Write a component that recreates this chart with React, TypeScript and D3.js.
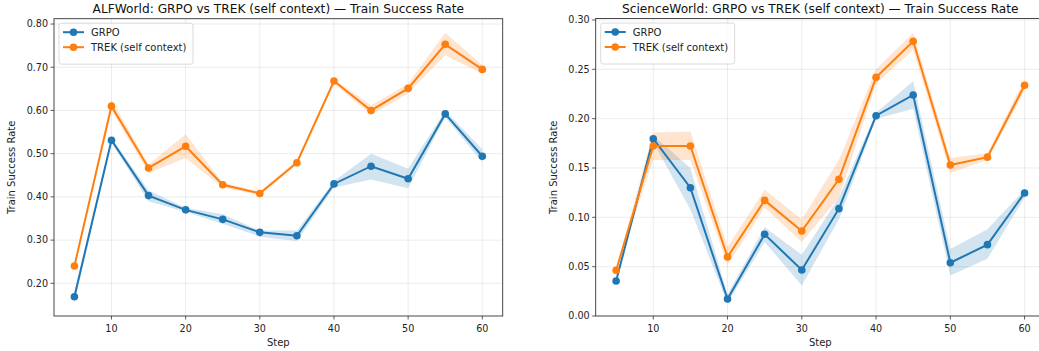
import React from 'react'
import { scaleLinear, line, area } from 'd3'

const steps = [5, 10, 15, 20, 25, 30, 35, 40, 45, 50, 55, 60]
const xTicks = [10, 20, 30, 40, 50, 60]

// ALFWorld
const alfGrpo = [0.169, 0.531, 0.403, 0.370, 0.348, 0.318, 0.310, 0.430, 0.471, 0.442, 0.592, 0.494]
const alfGrpoLo = [0.155, 0.525, 0.390, 0.365, 0.338, 0.308, 0.298, 0.422, 0.440, 0.420, 0.585, 0.480]
const alfGrpoHi = [0.180, 0.537, 0.415, 0.375, 0.360, 0.322, 0.322, 0.436, 0.500, 0.465, 0.600, 0.510]
const alfTrek = [0.240, 0.610, 0.467, 0.517, 0.428, 0.408, 0.479, 0.668, 0.600, 0.651, 0.753, 0.695]
const alfTrekLo = [0.237, 0.600, 0.455, 0.490, 0.422, 0.404, 0.475, 0.662, 0.590, 0.640, 0.728, 0.685]
const alfTrekHi = [0.243, 0.625, 0.475, 0.545, 0.433, 0.413, 0.485, 0.672, 0.612, 0.662, 0.780, 0.705]
const alfYTicks = [0.2, 0.3, 0.4, 0.5, 0.6, 0.7, 0.8]

// ScienceWorld
const sciGrpo = [0.0355, 0.1797, 0.130, 0.0172, 0.0828, 0.0466, 0.1088, 0.203, 0.224, 0.054, 0.0723, 0.1247]
const sciGrpoLo = [0.033, 0.176, 0.108, 0.013, 0.075, 0.031, 0.098, 0.200, 0.210, 0.041, 0.058, 0.120]
const sciGrpoHi = [0.038, 0.183, 0.150, 0.022, 0.090, 0.062, 0.120, 0.206, 0.238, 0.068, 0.088, 0.128]
const sciTrek = [0.0463, 0.1723, 0.1723, 0.0598, 0.1172, 0.0861, 0.1385, 0.2419, 0.2784, 0.153, 0.161, 0.2338]
const sciTrekLo = [0.044, 0.158, 0.158, 0.052, 0.110, 0.075, 0.120, 0.235, 0.270, 0.145, 0.158, 0.228]
const sciTrekHi = [0.048, 0.186, 0.187, 0.070, 0.128, 0.098, 0.158, 0.250, 0.287, 0.160, 0.165, 0.240]
const sciYTicks = [0.0, 0.05, 0.1, 0.15, 0.2, 0.25, 0.3]

const blue = '#1f77b4'
const orange = '#ff7f0e'
const font = 'DejaVu Sans, sans-serif'

type Series = { name: string; color: string; mean: number[]; lo: number[]; hi: number[] }

const Panel = ({ left, right, top, bottom, yDomain, yTicks, title, series }: {
  left: number; right: number; top: number; bottom: number
  yDomain: [number, number]; yTicks: number[]; title: string; series: Series[]
}) => {
  const x = scaleLinear().domain([2.25, 62.75]).range([left, right])
  const y = scaleLinear().domain(yDomain).range([bottom, top])
  const clipId = 'clip' + Math.round(left)
  const mk = line<number>().x((d, i) => x(steps[i])).y(d => y(d))
  return (
    <g>
      <defs>
        <clipPath id={clipId}><rect x={left} y={top} width={right - left} height={bottom - top} /></clipPath>
      </defs>
      <g clipPath={`url(#${clipId})`}>
        {xTicks.map(t => (
          <line key={'gx' + t} x1={x(t)} x2={x(t)} y1={top} y2={bottom} stroke='#b0b0b0' strokeOpacity={0.3} strokeWidth={0.8} />
        ))}
        {yTicks.map(t => (
          <line key={'gy' + t} x1={left} x2={right} y1={y(t)} y2={y(t)} stroke='#b0b0b0' strokeOpacity={0.3} strokeWidth={0.8} />
        ))}
        {series.map(s => {
          const band = area<number>().x((d, i) => x(steps[i])).y0((d, i) => y(s.lo[i])).y1(d => y(d))
          return <path key={'b' + s.name} d={band(s.hi) || ''} fill={s.color} fillOpacity={0.2} />
        })}
        {series.map(s => (
          <g key={'l' + s.name}>
            <path d={mk(s.mean) || ''} fill='none' stroke={s.color} strokeWidth={2} />
            {s.mean.map((v, i) => <circle key={i} cx={x(steps[i])} cy={y(v)} r={3.8} fill={s.color} />)}
          </g>
        ))}
      </g>
      <rect x={left} y={top} width={right - left} height={bottom - top} fill='none' stroke='#333' strokeWidth={0.9} />
      {xTicks.map(t => (
        <g key={'tx' + t} transform={`translate(${x(t)},${bottom})`}>
          <line y1={0} y2={3.5} stroke='#333' strokeWidth={0.8} />
          <text y={16} textAnchor='middle' fontSize={9.6} fontFamily={font} fill='#222'>{t}</text>
        </g>
      ))}
      {yTicks.map(t => (
        <g key={'ty' + t} transform={`translate(${left},${y(t)})`}>
          <line x1={-3.5} x2={0} stroke='#333' strokeWidth={0.8} />
          <text x={-6} dy='0.35em' textAnchor='end' fontSize={9.6} fontFamily={font} fill='#222'>{t.toFixed(2)}</text>
        </g>
      ))}
      <text x={(left + right) / 2} y={top - 6} textAnchor='middle' fontSize={12.2} fontFamily={font} fill='#111'>{title}</text>
      <text x={(left + right) / 2} y={bottom + 30} textAnchor='middle' fontSize={10} fontFamily={font} fill='#222'>Step</text>
      <text transform={`translate(${left - 39},${(top + bottom) / 2}) rotate(-90)`} textAnchor='middle' fontSize={10} fontFamily={font} fill='#222'>Train Success Rate</text>
      <g transform={`translate(${left + 5},${top + 4.5})`}>
        <rect width={134} height={41} rx={2.5} fill='white' fillOpacity={0.8} stroke='#d0d0d0' strokeWidth={0.8} />
        {series.map((s, i) => (
          <g key={'lg' + s.name} transform={`translate(0,${9 + i * 15})`}>
            <line x1={4} x2={25} stroke={s.color} strokeWidth={2} />
            <circle cx={14.5} cy={0} r={3.8} fill={s.color} />
            <text x={32} dy='0.35em' fontSize={10} fontFamily={font} fill='#222'>{s.name}</text>
          </g>
        ))}
      </g>
    </g>
  )
}

export default function App() {
  return (
    <svg width={1039} height={351} style={{ position: 'absolute', left: 0, top: 0, background: 'white' }}>
      <Panel left={54} right={502.7} top={18.7} bottom={316} yDomain={[0.1244, 0.8123]} yTicks={alfYTicks}
        title='ALFWorld: GRPO vs TREK (self context) — Train Success Rate'
        series={[
          { name: 'GRPO', color: blue, mean: alfGrpo, lo: alfGrpoLo, hi: alfGrpoHi },
          { name: 'TREK (self context)', color: orange, mean: alfTrek, lo: alfTrekLo, hi: alfTrekHi },
        ]} />
      <Panel left={595.7} right={1045} top={18.5} bottom={316} yDomain={[0, 0.3015]} yTicks={sciYTicks}
        title='ScienceWorld: GRPO vs TREK (self context) — Train Success Rate'
        series={[
          { name: 'GRPO', color: blue, mean: sciGrpo, lo: sciGrpoLo, hi: sciGrpoHi },
          { name: 'TREK (self context)', color: orange, mean: sciTrek, lo: sciTrekLo, hi: sciTrekHi },
        ]} />
    </svg>
  )
}
